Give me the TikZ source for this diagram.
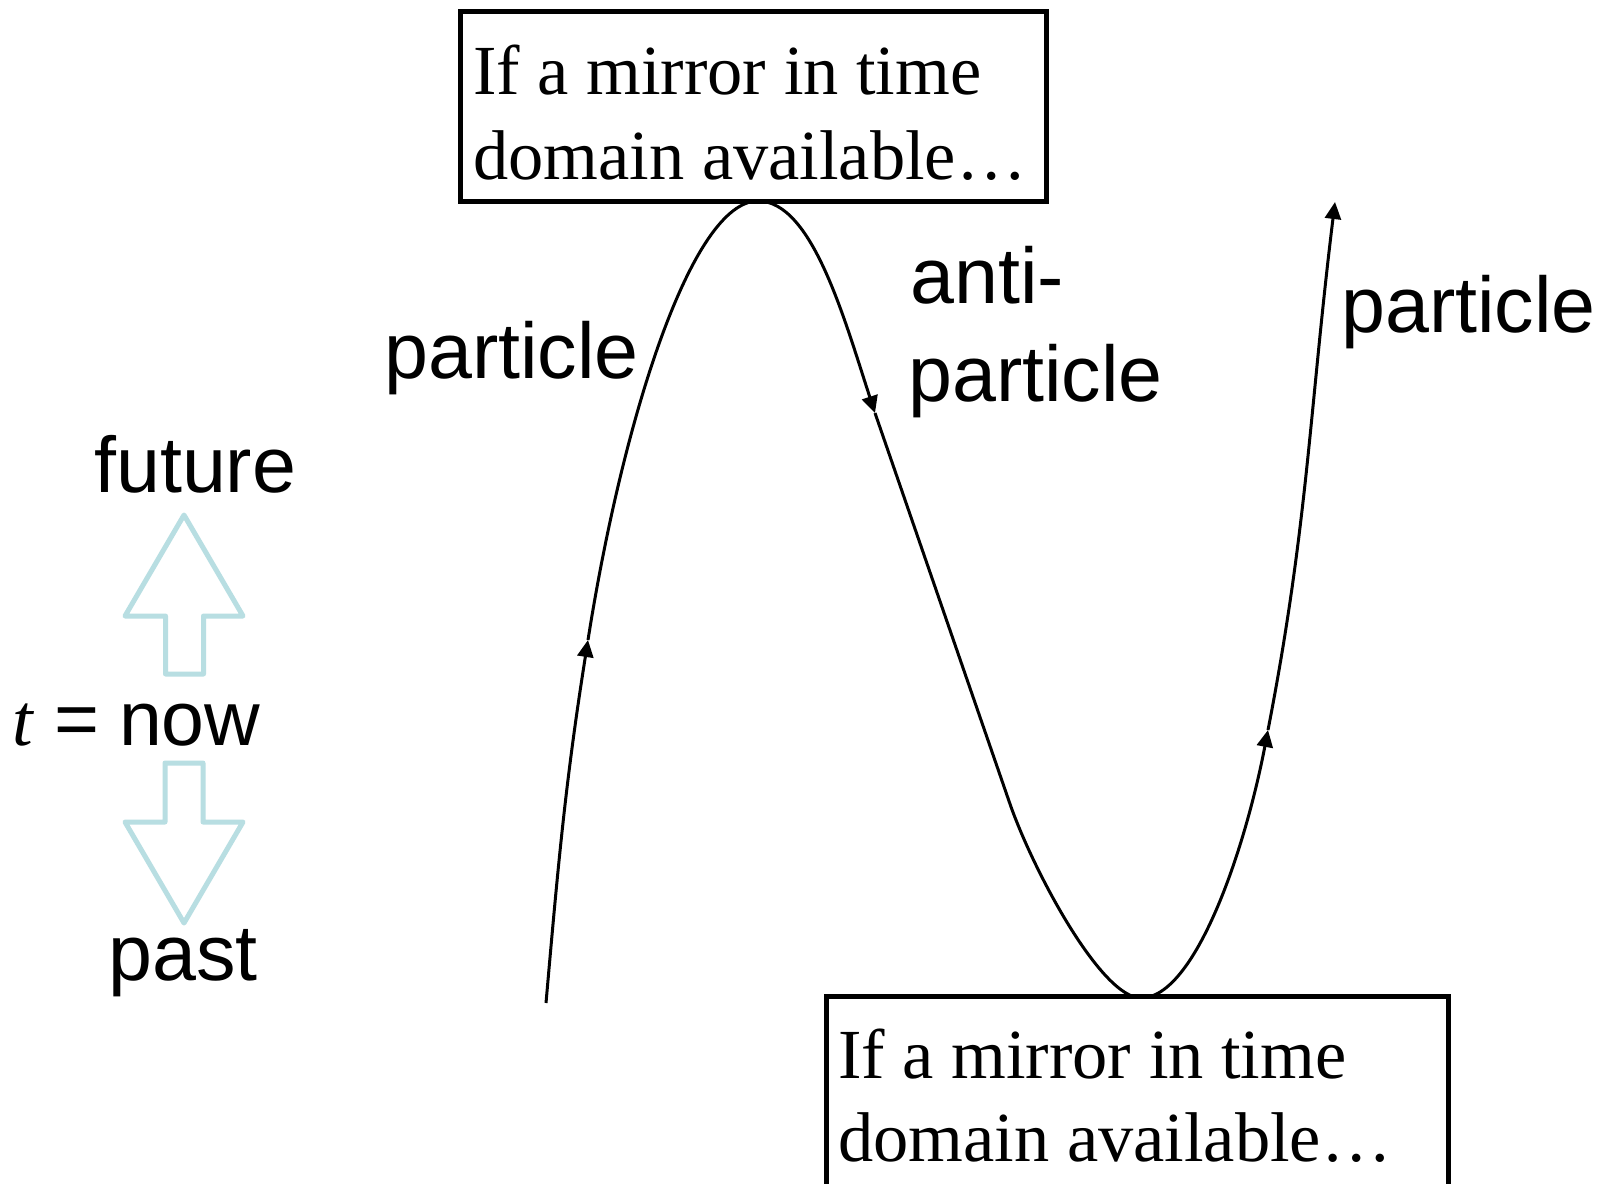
\documentclass[tikz,border=0pt]{standalone}
\usepackage{fontspec}
\setmainfont{Liberation Serif}
\setsansfont{Liberation Sans}
\newfontfamily\lblfont{Liberation Sans}
\newfontfamily\serfont{Liberation Serif}
\usetikzlibrary{arrows.meta}
\definecolor{arrowteal}{RGB}{184,222,226}
\tikzset{
  worldline/.style={line width=3pt, black},
  tipped/.style={worldline, -{Triangle[length=17pt,width=16pt]}},
  mirrorbox/.style={draw=black, line width=5pt, fill=white, inner sep=0pt},
  boxtxt/.style={inner sep=0pt, font=\serfont\fontsize{70.4}{85}\selectfont},
  lbl/.style={inner sep=0pt, font=\lblfont\fontsize{79}{88}\selectfont},
  blockarrow/.style={draw=arrowteal, line width=5pt, line join=round, fill=white}
}
\begin{document}
\begin{tikzpicture}[x=1pt,y=1pt]
\useasboundingbox (0,0) rectangle (1600,-1183);
\clip (0,0) rectangle (1600,-1183);
\fill[white] (0,0) rectangle (1600,-1183);

% world line coordinates
\coordinate (s0) at (546,-1003);
\coordinate (a1) at (588,-640);
\coordinate (pk) at (758,-201);
\coordinate (a2) at (875,-413);
\coordinate (m1) at (1010,-804);
\coordinate (tr) at (1141,-998);
\coordinate (a3) at (1268,-730);
\coordinate (e)  at (1335,-202);

\draw[tipped] (s0) to[out=85,in=-99] (a1);
\draw[tipped] (a1) .. controls (623,-418) and (692,-201) .. (pk)
                   .. controls (812,-201) and (844,-318) .. (a2);
\draw[tipped] (a2) -- (m1) .. controls (1033,-870) and (1101,-998) .. (tr)
                   .. controls (1195,-998) and (1245,-850) .. (a3);
\draw[tipped] (a3) to[out=79,in=-97] (e);

% mirror boxes
\node[mirrorbox, minimum width=586pt, minimum height=190pt, anchor=north west] (topbox) at (458,-9) {};
\node[boxtxt, anchor=base west] (top1) at (473,-94) {If a mirror in time};
\node[boxtxt, anchor=base west] (top2) at (473,-179) {domain available…};

\node[mirrorbox, minimum width=622pt, minimum height=320pt, anchor=north west] (botbox) at (824,-994) {};
\node[boxtxt, anchor=base west] (bot1) at (838,-1078) {If a mirror in time};
\node[boxtxt, anchor=base west] (bot2) at (838,-1161) {domain available…};

% labels
\node[lbl, anchor=base west] (plabel1) at (384,-378) {particle};
\node[lbl, anchor=base west] (anti) at (910,-303) {anti-};
\node[lbl, anchor=base west] (plabel2) at (908,-401) {particle};
\node[lbl, anchor=base west] (plabel3) at (1341,-332) {particle};

% time direction
\node[lbl, anchor=base west] (future) at (94,-492) {future};
\node[lbl, anchor=base west] (past) at (108,-980) {past};
\node[lbl, anchor=base west] (now) at (0,-745)
  {\hspace*{12pt}\rlap{\serfont\itshape\fontsize{74}{80}\selectfont t}\hspace{42pt}\rlap{\fontsize{77}{80}\selectfont=}\hspace{65pt}\fontsize{77}{80}\selectfont now};

\draw[blockarrow] (184,-515) -- (243,-616) -- (203.5,-616) -- (203.5,-674)
   -- (165.5,-674) -- (165.5,-616) -- (125,-616) -- cycle;
\draw[blockarrow] (165,-763) -- (203,-763) -- (203,-822) -- (243,-822)
   -- (184,-923) -- (125,-822) -- (165,-822) -- cycle;
\end{tikzpicture}
\end{document}
